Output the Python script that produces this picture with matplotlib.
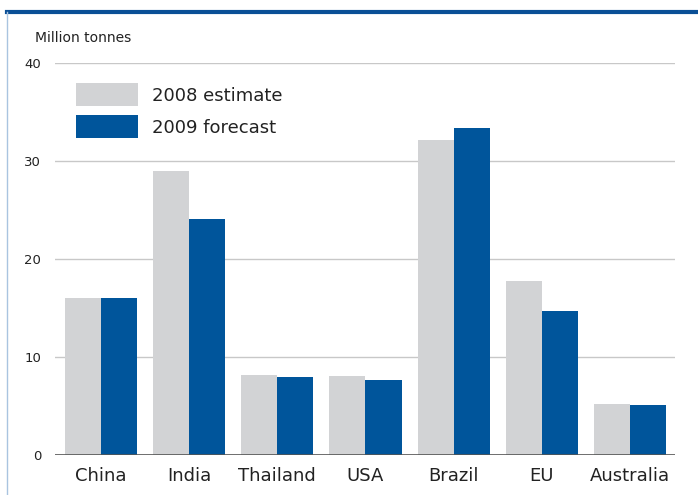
import numpy as np
import matplotlib.pyplot as plt
from matplotlib.lines import Line2D

countries = ["China", "India", "Thailand", "USA", "Brazil", "EU", "Australia"]
est_2008 = [16.0, 29.0, 8.2, 8.0, 32.1, 17.7, 5.2]
fc_2009 = [16.0, 24.1, 7.9, 7.6, 33.4, 14.7, 5.1]

grey = "#d2d3d5"
blue = "#00559b"

plt.rcParams['font.family'] = ['DejaVu Sans']

fig = plt.figure(figsize=(6.98, 4.95), dpi=100)
ax = fig.add_axes([0.079, 0.081, 0.888, 0.792])

x = np.arange(len(countries))
w = 0.41
ax.bar(x - w / 2, est_2008, width=w, color=grey, label="2008 estimate", zorder=2)
ax.bar(x + w / 2, fc_2009, width=w, color=blue, label="2009 forecast", zorder=2)

ax.set_xlim(-0.52, 6.51)
ax.set_ylim(0, 40)
ax.set_yticks([0, 10, 20, 30, 40])
ax.set_xticks(x)
ax.set_xticklabels(countries, fontsize=13, color="#222222")
ax.tick_params(axis='y', length=0, pad=10, labelsize=9.5, labelcolor="#222222")
ax.tick_params(axis='x', length=0, pad=9)
for t in [10, 20, 30, 40]:
    ax.axhline(t, color="#c8c8c8", lw=1, zorder=1)
ax.axhline(0, color="#555555", lw=1.2, zorder=3)
for s in ax.spines.values():
    s.set_visible(False)

ax.text(-0.033, 1.045, "Million tonnes", transform=ax.transAxes, fontsize=10,
        ha="left", va="bottom", color="#222222")

leg = ax.legend(loc="upper left", bbox_to_anchor=(0.008, 0.99), frameon=False,
                fontsize=13, handlelength=3.4, handleheight=1.6,
                labelspacing=0.5, handletextpad=0.8)
for t in leg.get_texts():
    t.set_color("#222222")

# frame decorations
fig.add_artist(Line2D([0.01, 1.0], [0.976, 0.976], color="#0a4f96", lw=3,
                      transform=fig.transFigure))
fig.add_artist(Line2D([0.01, 0.01], [0.0, 0.976], color="#a9c4e0", lw=1,
                      transform=fig.transFigure))

fig.savefig("out.png", dpi=100)
